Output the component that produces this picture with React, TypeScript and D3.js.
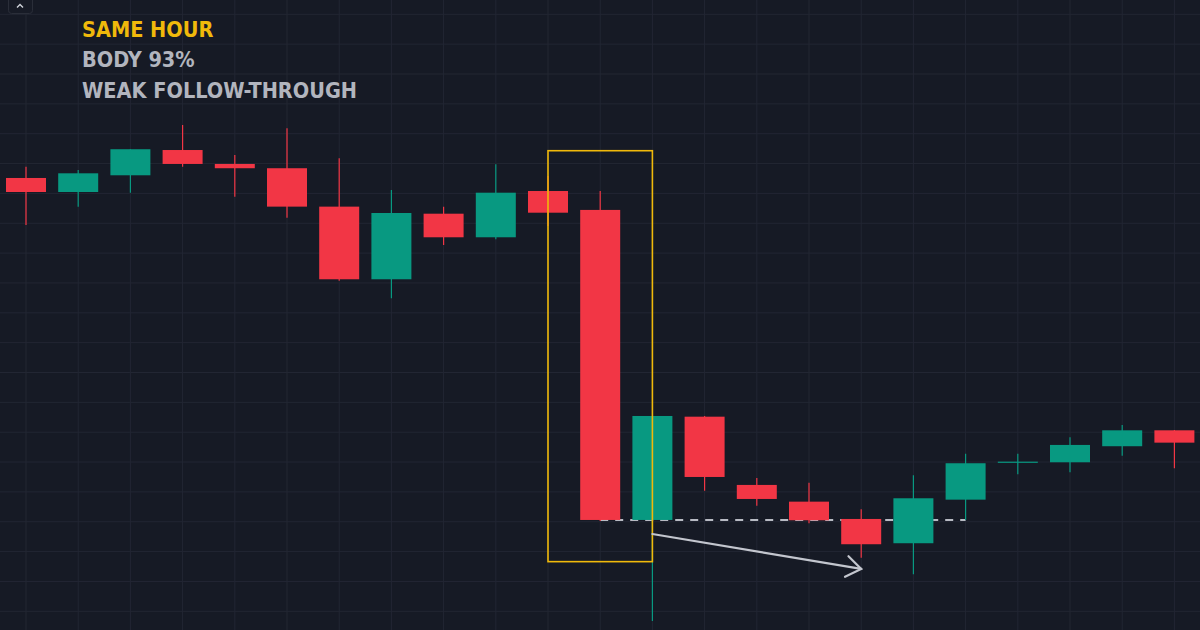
import * as d3 from 'd3';

const WIDTH = 1200;
const HEIGHT = 630;

// candle OHLC values (arbitrary price units)
const opens = [505.5, 491.4, 508.2, 533.6, 519.6, 515.3, 476.7, 403.7, 469.6, 445.9, 492.4, 473.4, 161.8, 265.6, 197.0, 180.2, 162.8, 138.4, 182.2, 219.4, 219.8, 235.9, 251.9];
const highs = [516.9, 513.5, 534.4, 558.8, 528.6, 555.5, 525.3, 493.5, 476.7, 519.3, 507.5, 492.4, 266.3, 266.3, 204.0, 199.3, 172.6, 206.7, 228.4, 228.4, 244.9, 257.3, 252.2];
const lows = [458.3, 476.7, 490.7, 516.9, 486.7, 465.6, 402.3, 384.6, 438.2, 443.9, 457.3, 160.8, 60.3, 191.2, 176.2, 158.5, 123.9, 107.2, 161.8, 207.7, 209.7, 226.4, 213.8];
const closes = [491.4, 510.2, 534.4, 519.6, 515.3, 476.7, 403.7, 470.3, 445.9, 490.7, 470.6, 161.8, 266.3, 205.0, 182.9, 161.5, 137.4, 183.6, 218.8, 220.4, 237.2, 251.9, 239.5];

const gridTicks = d3.range(670, 29, -30);

// annotations
const boxFrom = 10;
const boxTo = 12;
const boxTop = 532.9;
const boxBottom = 119.9;
const levelFrom = 11;
const levelTo = 18;
const levelPrice = 161.8;
const arrowFrom = { i: 12, p: 147.7 };
const arrowTo = { i: 16, p: 112.6 };

const titleLines = ['SAME HOUR', 'BODY 93%', 'WEAK FOLLOW-THROUGH'];

const BG = '#161a25';
const GRID = '#222633';
const UP = '#089981';
const DOWN = '#f23645';
const YELLOW = '#f0b90b';
const LABEL = '#b2b5be';

const x = d3.scaleLinear().domain([0, opens.length - 1]).range([26, 1174.4]);
// grid line 670 sits at y=14.3, 30 units per 29.85px
const y = d3.scaleLinear().domain([670, 40]).range([14.3, 14.3 + 21 * 29.85]);

const BODY_W = 40;

export default function App() {
  const candles = opens.map((o, i) => ({ o, h: highs[i], l: lows[i], c: closes[i] }));

  const arrowStart: [number, number] = [x(arrowFrom.i), y(arrowFrom.p)];
  const arrowEnd: [number, number] = [x(arrowTo.i), y(arrowTo.p)];
  const ang = Math.atan2(arrowEnd[1] - arrowStart[1], arrowEnd[0] - arrowStart[0]);
  const head = 18;
  const spread = 0.62;
  const headA: [number, number] = [arrowEnd[0] - head * Math.cos(ang - spread), arrowEnd[1] - head * Math.sin(ang - spread)];
  const headB: [number, number] = [arrowEnd[0] - head * Math.cos(ang + spread), arrowEnd[1] - head * Math.sin(ang + spread)];

  return (
    <svg
      width={WIDTH}
      height={HEIGHT}
      style={{ position: 'fixed', left: 0, top: 0, display: 'block' }}
    >
      <rect width={WIDTH} height={HEIGHT} fill={BG} />

      {/* grid */}
      {gridTicks.map((t) => (
        <line key={'h' + t} x1={0} x2={WIDTH} y1={y(t)} y2={y(t)} stroke={GRID} strokeWidth={1} />
      ))}
      {candles.map((_, i) => (
        <line key={'v' + i} x1={x(i)} x2={x(i)} y1={0} y2={HEIGHT} stroke={GRID} strokeWidth={1} />
      ))}

      {/* level line, behind the candles */}
      <line
        x1={x(levelFrom)}
        x2={x(levelTo)}
        y1={y(levelPrice)}
        y2={y(levelPrice)}
        stroke="#b8bbc4"
        strokeWidth={2}
        strokeDasharray="8 7"
      />

      {candles.map((d, i) => {
        const col = d.c >= d.o ? UP : DOWN;
        const top = y(Math.max(d.o, d.c));
        const bot = y(Math.min(d.o, d.c));
        return (
          <g key={i}>
            <line x1={x(i)} x2={x(i)} y1={y(d.h)} y2={y(d.l)} stroke={col} strokeWidth={1.2} />
            <rect x={x(i) - BODY_W / 2} y={top} width={BODY_W} height={Math.max(1.2, bot - top)} fill={col} />
          </g>
        );
      })}

      {/* highlight box */}
      <rect
        x={x(boxFrom)}
        y={y(boxTop)}
        width={x(boxTo) - x(boxFrom)}
        height={y(boxBottom) - y(boxTop)}
        fill="none"
        stroke={YELLOW}
        strokeWidth={1.6}
      />

      {/* arrow */}
      <g stroke="#c3c6ce" strokeWidth={2.2} strokeLinecap="round" fill="none">
        <line x1={arrowStart[0]} y1={arrowStart[1]} x2={arrowEnd[0]} y2={arrowEnd[1]} />
        <polyline points={[headA, arrowEnd, headB].map((p) => p.join(',')).join(' ')} />
      </g>

      {/* collapse button */}
      <rect x={8.5} y={-4} width={24} height={17.5} rx={3} fill="#171b26" stroke="#2a2e39" strokeWidth={1} />
      <polyline points="17,7.5 20,4.5 23,7.5" fill="none" stroke="#d1d4dc" strokeWidth={1.4} />

      {/* labels */}
      {titleLines.map((t, i) => (
        <text
          key={t}
          x={82}
          y={[37, 67, 98][i]}
          fill={i === 0 ? YELLOW : LABEL}
          fontFamily="'DejaVu Sans Condensed', 'DejaVu Sans', sans-serif"
          fontStretch="condensed"
          fontWeight={700}
          fontSize={21.5}
        >
          {t}
        </text>
      ))}
    </svg>
  );
}
